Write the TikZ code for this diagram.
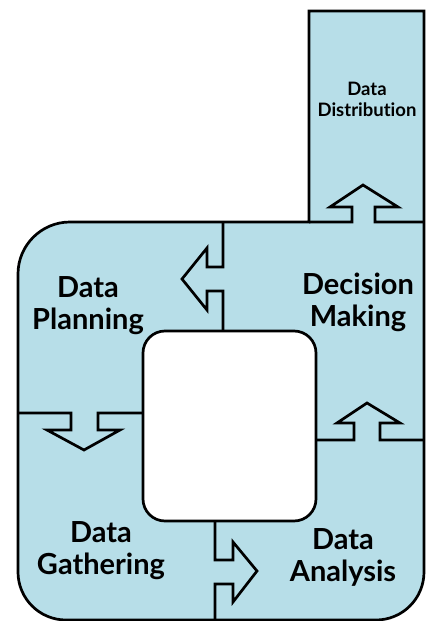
\documentclass[tikz,border=0pt]{standalone}
\usepackage{fontspec}
\setmainfont{Lato}[Ligatures=NoCommon]
\definecolor{panel}{HTML}{B7DEE8}
\begin{document}
\begin{tikzpicture}[x=1pt,y=-1pt,
  outline/.style={draw=black,line width=2.7pt,line join=miter},
  divider/.style={draw=black,line width=2.7pt,line join=miter},
  biglabel/.style={font=\bfseries\fontsize{29}{32}\selectfont,align=center,inner sep=0pt},
  smalllabel/.style={font=\bfseries\fontsize{18.5}{21}\selectfont,align=center,inner sep=0pt}]
\useasboundingbox (0,0) rectangle (431,621);
% outer body with tower
\path[outline,fill=panel] (309,222) -- (309,11) -- (424,11) -- (424,572)
  arc[start angle=0,end angle=90,radius=48] -- (66,620)
  arc[start angle=90,end angle=180,radius=48] -- (18,274)
  arc[start angle=180,end angle=270,radius=52] -- cycle;
% central hole
\path[outline,fill=white,rounded corners=22] (143,331) rectangle (316,521);
% dividers with arrow notches
\coordinate (hTopA) at (223,222);
\coordinate (hTopB) at (223,331);
\draw[divider] (hTopA) -- (223,267) -- (207,267) -- (207,248) -- (182,279) -- (207,310) -- (207,291) -- (223,291) -- (hTopB);
\coordinate (hLeftA) at (18,413);
\coordinate (hLeftB) at (143,413);
\draw[divider] (hLeftA) -- (71,413) -- (71,430) -- (47,430) -- (84,450) -- (120,430) -- (98,430) -- (98,413) -- (hLeftB);
\coordinate (hBotA) at (215,521);
\coordinate (hBotB) at (215,620);
\draw[divider] (hBotA) -- (215,560) -- (233,560) -- (233,542) -- (257,571) -- (233,602) -- (233,584) -- (215,584) -- (hBotB);
\coordinate (hRightA) at (316,440);
\coordinate (hRightB) at (424,440);
\draw[divider] (hRightA) -- (354,440) -- (354,423) -- (337,423) -- (367,403) -- (400,423) -- (380,423) -- (380,440) -- (hRightB);
\coordinate (hTowA) at (309,222);
\coordinate (hTowB) at (424,222);
\draw[divider] (hTowA) -- (352,222) -- (352,207) -- (330,207) -- (363,185) -- (398,207) -- (375,207) -- (375,222) -- (hTowB);
% labels
\node[smalllabel] (dist) at (367,99) {Data\\Distribution};
\node[biglabel] (plan) at (88,306) {Data\\Planning};
\node[biglabel] (dec) at (358,302) {Decision\\Making};
\node[biglabel] (gath) at (101,551) {Data\\Gathering};
\node[biglabel] (anal) at (343,557) {Data\\Analysis};
\end{tikzpicture}
\end{document}
